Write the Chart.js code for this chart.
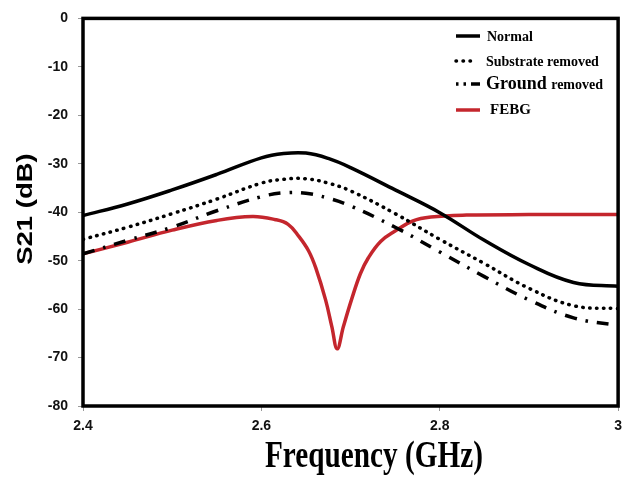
<!DOCTYPE html>
<html>
<head>
<meta charset="utf-8">
<title>S21 vs frequency</title>
<script src="https://cdn.jsdelivr.net/npm/chart.js"></script>
<style>
  body { margin: 0; background: #fff; }
  #wrap { width: 629px; height: 477px; position: relative; }
</style>
</head>
<body>
<div id="wrap"><canvas id="myChart"></canvas></div>
<script>
// frequency grid (GHz) shared by the three black curves
var freq = [2.40, 2.45, 2.50, 2.55, 2.60, 2.625, 2.65, 2.675, 2.70, 2.75, 2.80, 2.85, 2.90, 2.95, 3.00];
var normalDb    = [-40.7, -38.3, -35.4, -32.2, -28.8, -27.9, -27.8, -28.9, -30.8, -35.4, -40.1, -45.8, -50.8, -54.5, -55.3];
var substrateDb = [-45.6, -43.1, -40.3, -37.3, -34.0, -33.2, -33.1, -34.0, -35.6, -40.3, -45.6, -50.6, -55.7, -59.3, -59.9];
var groundDb    = [-48.6, -45.8, -43.1, -39.7, -36.8, -36.0, -36.1, -37.1, -38.7, -43.1, -48.2, -53.3, -58.1, -61.8, -63.4];

// FEBG has a sharp notch, so it gets its own denser grid
var febgFreq = [2.40, 2.45, 2.50, 2.55, 2.59, 2.615, 2.63, 2.642, 2.653, 2.661, 2.672, 2.679, 2.685,
                2.692, 2.701, 2.711, 2.72, 2.734, 2.75, 2.77, 2.79, 2.83, 2.90, 3.00];
var febgDb   = [-48.6, -46.2, -43.7, -41.7, -40.9, -41.5, -42.5, -45.0, -48.0, -51.5, -58.1, -63.6, -68.2,
                -63.6, -58.1, -52.7, -49.4, -46.0, -43.9, -41.8, -41.0, -40.6, -40.5, -40.5];

var seriesNames = ['Normal', 'Substrate removed', 'Ground removed', 'FEBG'];
var xTicks = [2.4, 2.6, 2.8, 3];
var yTicks = [0, -10, -20, -30, -40, -50, -60, -70, -80];

var RED = '#c4262d';

function pts(xs, ys) {
  return xs.map(function (x, i) { return { x: x, y: ys[i] }; });
}

var lineStyles = [
  { color: '#000', dash: [], cap: 'butt' },
  { color: '#000', dash: [0.5, 6.5], cap: 'round' },
  { color: '#000', dash: [12, 9, 2.5, 9], cap: 'butt' },
  { color: RED, dash: [], cap: 'butt' }
];

var allData = [pts(freq, normalDb), pts(freq, substrateDb), pts(freq, groundDb), pts(febgFreq, febgDb)];

var datasets = allData.map(function (d, i) {
  return {
    label: seriesNames[i],
    data: d,
    borderColor: lineStyles[i].color,
    borderWidth: 3.5,
    borderDash: lineStyles[i].dash,
    borderCapStyle: lineStyles[i].cap,
    pointRadius: 0,
    fill: false,
    tension: 0.4
  };
});

// box, axis titles and the legend drawn by hand
var decor = {
  id: 'decor',
  afterDatasetsDraw: function (chart) {
    var ctx = chart.ctx, a = chart.chartArea;
    ctx.save();
    ctx.strokeStyle = '#000';
    ctx.lineWidth = 3.5;
    ctx.setLineDash([]);
    ctx.strokeRect(a.left, a.top, a.right - a.left, a.bottom - a.top);

    // y title
    ctx.save();
    ctx.translate(26, 209);
    ctx.rotate(-Math.PI / 2);
    ctx.scale(1.25, 1);
    ctx.fillStyle = '#000';
    ctx.font = 'bold 22px "Liberation Sans", Arial, sans-serif';
    ctx.textAlign = 'center';
    ctx.textBaseline = 'middle';
    ctx.fillText('S21 (dB)', 0, 0);
    ctx.restore();

    // x title
    ctx.save();
    ctx.translate(374, 467);
    ctx.scale(0.77, 1);
    ctx.fillStyle = '#000';
    ctx.font = 'bold 38px "Liberation Serif", "Times New Roman", serif';
    ctx.textAlign = 'center';
    ctx.textBaseline = 'alphabetic';
    ctx.fillText('Frequency (GHz)', 0, 0);
    ctx.restore();

    // legend
    var rows = [36, 61, 84, 110];
    rows.forEach(function (y, i) {
      var s = lineStyles[i];
      ctx.beginPath();
      ctx.strokeStyle = s.color;
      ctx.lineWidth = 3.5;
      ctx.lineCap = s.cap;
      if (i == 2) ctx.setLineDash([2.5, 5, 2.5, 5, 12, 0]);
      else ctx.setLineDash(s.dash);
      ctx.moveTo(456, y);
      ctx.lineTo(i == 1 ? 477 : 480, y);
      ctx.stroke();
    });
    ctx.setLineDash([]);
    ctx.fillStyle = '#000';
    ctx.textAlign = 'left';
    ctx.textBaseline = 'middle';
    var f = '"Liberation Serif", "Times New Roman", serif';
    ctx.font = 'bold 14px ' + f;
    ctx.fillText(seriesNames[0], 487, 37);
    ctx.fillText(seriesNames[1], 486, 62);
    ctx.font = 'bold 18px ' + f;
    ctx.fillText('Ground', 486, 84);
    var gw = ctx.measureText('Ground ').width;
    ctx.font = 'bold 14px ' + f;
    ctx.fillText('removed', 486 + gw, 85);
    ctx.font = 'bold 15px ' + f;
    ctx.fillText(seriesNames[3], 490, 110);
    ctx.restore();
  }
};

var tickFont = { family: '"Liberation Sans", Arial, sans-serif', size: 14, weight: 'bold' };

new Chart(document.getElementById('myChart'), {
  type: 'line',
  data: { datasets: datasets },
  options: {
    responsive: true,
    maintainAspectRatio: false,
    animation: false,
    layout: { padding: { top: 13, right: 7, left: 0, bottom: 0 } },
    plugins: { legend: { display: false }, tooltip: { enabled: false } },
    scales: {
      x: {
        type: 'linear',
        min: 2.4,
        max: 3,
        afterBuildTicks: function (s) { s.ticks = xTicks.map(function (v) { return { value: v }; }); },
        afterFit: function (s) { s.height = 71; },
        ticks: {
          font: tickFont, color: '#111', padding: 7,
          callback: function (v) { return String(Math.round(v * 10) / 10); }
        },
        grid: { drawOnChartArea: false, drawTicks: true, tickLength: 5, color: '#999' },
        border: { display: false }
      },
      y: {
        min: -80,
        max: 0,
        afterBuildTicks: function (s) { s.ticks = yTicks.map(function (v) { return { value: v }; }); },
        afterFit: function (s) { s.width = 83; },
        ticks: { font: tickFont, color: '#111', padding: 10 },
        grid: { drawOnChartArea: false, drawTicks: true, tickLength: 5, color: '#999' },
        border: { display: false }
      }
    }
  },
  plugins: [decor]
});
</script>
</body>
</html>
